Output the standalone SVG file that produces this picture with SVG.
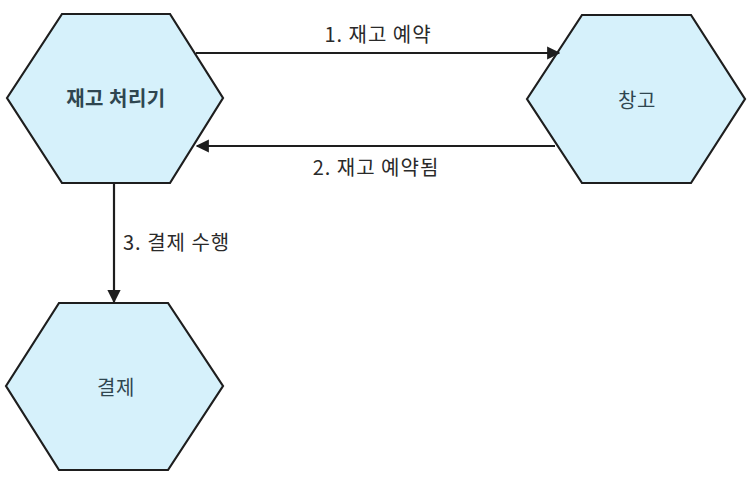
<svg xmlns="http://www.w3.org/2000/svg" width="756" height="482" viewBox="0 0 756 482">
<style>
.hex{fill:#d6f1fb;stroke:#1e1e1e;stroke-width:2.2;stroke-linejoin:miter}
.nl{font-family:"Noto Sans CJK KR","Noto Sans",sans-serif;font-size:20px;fill:#2f4650;text-anchor:middle;letter-spacing:0.5px}
.el{font-family:"Noto Sans CJK KR","Noto Sans",sans-serif;font-size:20px;fill:#2a2a2a;letter-spacing:1px}
.ln{stroke:#1e1e1e;stroke-width:2.2;fill:none}
</style>
<defs>
<marker id="ah" viewBox="0 0 10 10" refX="9" refY="5" markerWidth="6" markerHeight="6" orient="auto" markerUnits="strokeWidth">
<path d="M0,0 L10,5 L0,10 Z" fill="#1e1e1e"/>
</marker>
</defs>
<rect width="756" height="482" fill="#ffffff"/>
<g id="node-inventory">
<polygon class="hex" points="7,98 62,14 170,14 223,98 170,183 62,183"/>
<text class="nl" x="116" y="106" font-weight="bold">재고 처리기</text>
</g>
<g id="node-warehouse">
<polygon class="hex" points="527,99 582,15 691,15 745,99 691,183 582,183"/>
<text class="nl" x="637" y="108">창고</text>
</g>
<g id="node-payment">
<polygon class="hex" points="6,386 59,303 168,303 223,386 168,470 59,470"/>
<text class="nl" x="116" y="395">결제</text>
</g>
<g id="connectors">
<line class="ln" x1="196" y1="53" x2="559" y2="53" marker-end="url(#ah)"/>
<line class="ln" x1="555" y1="146" x2="197" y2="146" marker-end="url(#ah)"/>
<line class="ln" x1="114" y1="183" x2="114" y2="302" marker-end="url(#ah)"/>
<text class="el" x="378" y="42" text-anchor="middle">1. 재고 예약</text>
<text class="el" x="376" y="175" text-anchor="middle">2. 재고 예약됨</text>
<text class="el" x="123" y="250">3. 결제 수행</text>
</g>
</svg>
